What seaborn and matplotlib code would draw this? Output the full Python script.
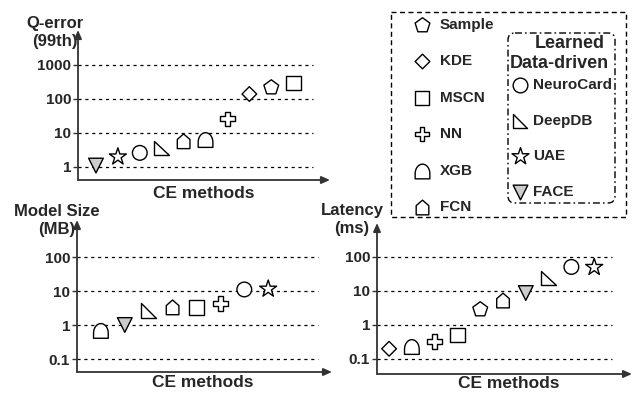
import numpy as np
import pandas as pd
import matplotlib
matplotlib.use("Agg")
import matplotlib.pyplot as plt
import seaborn as sns
from matplotlib.path import Path
from matplotlib.patches import Rectangle, FancyBboxPatch

# ---------------- data ----------------
q_methods = ["FACE", "UAE", "NeuroCard", "DeepDB", "FCN", "XGB", "NN", "KDE", "Sample", "MSCN"]
q_values = [1.1, 2.0, 2.6, 3.6, 5.7, 6.2, 26, 140, 217, 295]

size_methods = ["XGB", "FACE", "DeepDB", "FCN", "MSCN", "NN", "NeuroCard", "UAE"]
size_values = [0.67, 1.0, 2.7, 3.3, 3.3, 4.3, 11.1, 11.5]

lat_methods = ["KDE", "XGB", "NN", "MSCN", "Sample", "FCN", "FACE", "DeepDB", "NeuroCard", "UAE"]
lat_values = [0.2, 0.225, 0.32, 0.51, 2.85, 5.25, 8.7, 24, 51, 50]

q_ticks = [1, 10, 100, 1000]
q_ticklabels = ["1", "10", "100", "1000"]
ms_ticks = [0.1, 1, 10, 100]
ms_ticklabels = ["0.1", "1", "10", "100"]

legend_left = ["Sample", "KDE", "MSCN", "NN", "XGB", "FCN"]
legend_right = ["NeuroCard", "DeepDB", "UAE", "FACE"]

# ---------------- style ----------------
sns.set_style("white")
plt.rcParams["font.family"] = ["Liberation Sans", "DejaVu Sans"]
plt.rcParams["font.weight"] = "bold"
plt.rcParams["axes.labelweight"] = "bold"

AXC = "#333333"


def arch_path():
    th = np.linspace(0, np.pi, 30)
    top = np.column_stack([np.cos(th), -0.3 + 1.3 * np.sin(th)])
    verts = np.vstack([[[1, -1]], top, [[-1, -1]], [[1, -1]]])
    codes = [Path.MOVETO] + [Path.LINETO] * (len(verts) - 2) + [Path.CLOSEPOLY]
    return Path(verts, codes)


def poly_path(pts):
    verts = np.vstack([pts, pts[:1]])
    codes = [Path.MOVETO] + [Path.LINETO] * (len(pts) - 1) + [Path.CLOSEPOLY]
    return Path(verts, codes)


house = poly_path(np.array([[-0.86, -1], [0.86, -1], [0.86, 0.25], [0, 1], [-0.86, 0.25]]))
right_tri = poly_path(np.array([[-1, 1], [-1, -1], [1, -1]]))
diamond = poly_path(np.array([[0, 1], [1, 0], [0, -1], [-1, 0]]))

marker_map = {
    "Sample": "p",
    "KDE": diamond,
    "MSCN": "s",
    "NN": "P",
    "XGB": arch_path(),
    "FCN": house,
    "NeuroCard": "o",
    "DeepDB": right_tri,
    "UAE": "*",
    "FACE": "v",
}
color_map = {m: "white" for m in marker_map}
color_map["FACE"] = "#cccccc"
size_map = {m: 112 for m in marker_map}
size_map["UAE"] = 165
size_map["Sample"] = 125

fig = plt.figure(figsize=(6.35, 3.96), dpi=100)
W, H = 635.0, 396.0


def add_ax(left, right, bottom, top):
    return fig.add_axes([left / W, 1 - bottom / H, (right - left) / W, (bottom - top) / H])


def panel(ax, methods, values, ticks, ticklabels, ylim, xlim, grid_xmax, ylabel, ylab_xy, xlab_xy):
    df = pd.DataFrame({"method": methods, "value": values})
    ax.set_yscale("log")
    for t in ticks:
        ax.axhline(t, xmin=0, xmax=grid_xmax, color="black", lw=0.9,
                   ls=(0, (2.5, 3)), zorder=1)
    sns.scatterplot(data=df, x="method", y="value", hue="method", style="method",
                    size="method", sizes=size_map,
                    palette=color_map, markers=marker_map, edgecolor="black",
                    linewidth=1.0, legend=False, ax=ax, zorder=3)
    ax.set_ylim(*ylim)
    ax.set_xlim(*xlim)
    ax.set_xticks([])
    ax.set_yticks(ticks)
    ax.set_yticklabels(ticklabels)
    ax.minorticks_off()
    ax.tick_params(axis="y", which="major", left=True, length=3.5, width=1, pad=1.5,
                   labelsize=11, color=AXC)
    for s in ax.spines.values():
        s.set_visible(False)
    ap = dict(arrowstyle="-|>,head_length=0.5,head_width=0.22", lw=1.3, color=AXC,
              shrinkA=0, shrinkB=0)
    ax.annotate("", xy=(0, 1), xytext=(0, 0), xycoords="axes fraction",
                textcoords="axes fraction", arrowprops=ap, annotation_clip=False)
    ax.annotate("", xy=(1, 0), xytext=(0, 0), xycoords="axes fraction",
                textcoords="axes fraction", arrowprops=ap, annotation_clip=False)
    ax.set_ylabel(ylabel, rotation=0, ha="center", va="center", fontsize=12,
                  fontweight="bold", linespacing=1.25)
    ax.yaxis.set_label_coords(*ylab_xy)
    ax.set_xlabel("CE methods", fontsize=12.5, fontweight="bold", va="center")
    ax.xaxis.set_label_coords(*xlab_xy)
    ax.set_facecolor("none")


# top-left: Q-error
ax1 = add_ax(78, 330, 180, 30)
panel(ax1, q_methods, q_values, q_ticks, q_ticklabels,
      (0.414, 10700), (-0.82, 10.68), 0.933, "Q-error\n(99th)",
      (-0.091, 0.983), (0.5, -0.087))

# bottom-left: Model size
ax2 = add_ax(77, 332, 372, 220)
panel(ax2, size_methods, size_values, ms_ticks, ms_ticklabels,
      (0.0415, 1225), (-1.0, 9.67), 0.945, "Model Size\n(MB)",
      (-0.078, 1.0), (0.494, -0.072))

# bottom-right: Latency
ax3 = add_ax(377, 632, 374, 223)
panel(ax3, lat_methods, lat_values, ms_ticks, ms_ticklabels,
      (0.0362, 1000), (-0.53, 10.66), 0.92, "Latency\n(ms)",
      (-0.098, 1.02), (0.518, -0.06))

# ---------------- legend overlay ----------------
lax = fig.add_axes([0, 0, 1, 1])
lax.set_xlim(0, W)
lax.set_ylim(H, 0)
lax.axis("off")
lax.patch.set_alpha(0)

lax.add_patch(Rectangle((391, 12), 235, 205, fill=False, lw=1.0, ec="black",
                        ls=(0, (3.6, 2.5))))
lax.add_patch(FancyBboxPatch((508, 33), 107, 170, boxstyle="round,pad=0,rounding_size=7",
                             fill=False, lw=1.0, ec="black",
                             ls=(0, (5, 2.2, 1.2, 2.2))))

for i, m in enumerate(legend_left):
    y = 25 + i * 36.4
    lax.scatter([422], [y], marker=marker_map[m], s=size_map[m], facecolor=color_map[m],
                edgecolor="black", linewidth=1.0)
    lax.text(440, y, m, ha="left", va="center", fontsize=11, fontweight="bold")

lax.text(570, 44, "Learned", ha="center", va="center", fontsize=13, fontweight="bold")
lax.text(559, 63, "Data-driven", ha="center", va="center", fontsize=13, fontweight="bold")
for i, m in enumerate(legend_right):
    y = 85 + i * 35.7
    lax.scatter([520], [y], marker=marker_map[m], s=size_map[m], facecolor=color_map[m],
                edgecolor="black", linewidth=1.0)
    lax.text(533, y, m, ha="left", va="center", fontsize=11, fontweight="bold")

fig.savefig("out.png", dpi=100, facecolor="white")
